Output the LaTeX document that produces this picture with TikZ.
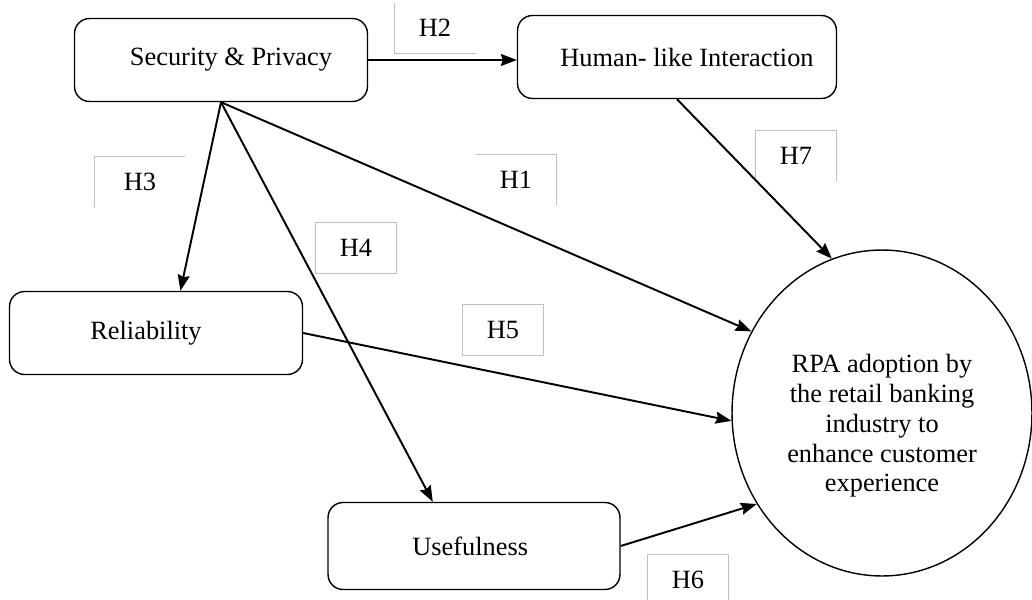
\documentclass[tikz,border=0pt]{standalone}
\usepackage{fontspec}
\setmainfont{Liberation Serif}
\usetikzlibrary{arrows.meta,shapes.geometric}
\tikzset{
  var/.style={draw, rounded corners=0.3cm, line width=0.8pt, font=\fontsize{15}{17}\selectfont},
  hyp/.style={minimum width=1.62cm, minimum height=1cm, inner sep=0pt, font=\fontsize{15}{17}\selectfont},
  hypline/.style={draw=black!25, line width=0.6pt},
  link/.style={line width=1.1pt, -{Stealth[length=0.32cm, width=0.24cm, inset=0.04cm]}}
}
\begin{document}
\begin{tikzpicture}[x=0.02cm, y=-0.02cm]
\useasboundingbox (0,0) rectangle (1032,599);
% constructs
\node[var, minimum width=5.86cm, minimum height=1.66cm] (sec) at (221,60) {\hspace{0.4cm}Security \& Privacy};
\node[var, minimum width=6.38cm, minimum height=1.66cm] (hum) at (677,57) {\hspace{0.4cm}Human- like Interaction};
\node[var, minimum width=5.86cm, minimum height=1.66cm] (rel) at (156,333) {Reliability\hspace{0.4cm}\mbox{}};
\node[var, minimum width=5.84cm, minimum height=1.74cm] (use) at (474,546) {Usefulness\hspace{0.15cm}\mbox{}};
\node[draw, ellipse, line width=0.8pt, minimum width=6cm, minimum height=6.52cm, align=center,
      font=\fontsize{15}{17}\selectfont] (rpa) at (882,413)
      {\rule{0pt}{25pt}RPA adoption by\\the retail banking\\industry to\\enhance customer\\experience};

% hypothesis labels
\node[hyp] (h2) at (435,28) {H2};
\node[hyp, minimum width=1.8cm] (h3) at (140,182) {H3};
\node[hyp] (h4) at (356,248) {H4};
\node[hyp] (h1) at (516,180) {H1};
\node[hyp] (h5) at (503,330) {H5};
\node[hyp] (h7) at (796,156) {H7};
\node[hyp] (h6) at (688,580) {H6};
\draw[hypline] (h2.north west) -- (h2.south west) -- (h2.south east);
\draw[hypline] (h3.south west) -- (h3.north west) -- (h3.north east);
\draw[hypline] (h4.south west) rectangle (h4.north east);
\draw[hypline] (h1.north west) -- (h1.north east) -- (h1.south east);
\draw[hypline] (h5.south west) rectangle (h5.north east);
\draw[hypline] (h7.south west) -- (h7.north west) -- (h7.north east) -- (h7.south east);
\draw[hypline] (h6.south west) -- (h6.north west) -- (h6.north east) -- (h6.south east);

% paths
\draw[link] (sec.east) -- (sec.east -| hum.west);
\draw[link] (sec.south) -- (rel.60);
\draw[link] (sec.south) -- (use.133);
\draw[link] (sec.south) -- (rpa.148);
\draw[link] (hum.south) -- (rpa.108);
\draw[link] (rel.east) -- (rpa.183);
\draw[link] (use.east) -- (rpa.216);
\end{tikzpicture}
\end{document}
